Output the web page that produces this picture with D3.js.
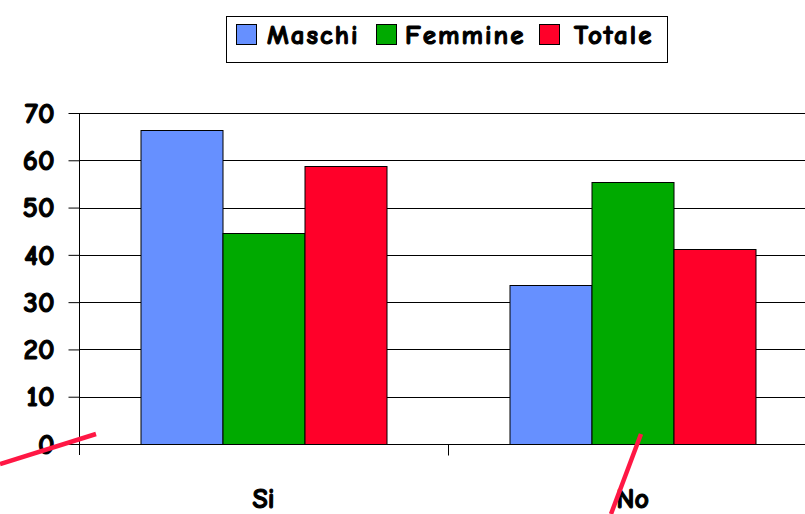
<!DOCTYPE html>
<html lang="it">
<head>
    <meta charset="UTF-8">
    <title>Maschi Femmine Totale</title>
    <script src="https://d3js.org/d3.v7.min.js"></script>
    <style>
        body { margin: 0; background: #fff; }
        svg { display: block; }
        text {
            font-family: "Comic Sans MS", "Comic Neue", "DejaVu Sans", sans-serif;
            font-weight: bold;
            fill: #000;
            stroke: #000;
            stroke-width: 1.1px;
            paint-order: stroke;
        }
    </style>
</head>
<body>
    <svg width="805" height="514"></svg>

    <script>
        // Data (percentages)
        const categories = ["Si", "No"];
        const seriesNames = ["Maschi", "Femmine", "Totale"];
        const maschi = [66.4, 33.6];
        const femmine = [44.6, 55.4];
        const totale = [58.7, 41.3];
        const yTicks = [0, 10, 20, 30, 40, 50, 60, 70];
        const colors = ["#6690ff", "#00aa00", "#ff0029"];

        const series = [maschi, femmine, totale];

        const width = 805;
        // the plot runs past the right edge of the picture (cropped)
        const plot = { left: 79, right: 817, top: 113, bottom: 444 };

        const svg = d3.select("svg");

        const x = d3.scaleBand()
            .domain(categories)
            .range([plot.left, plot.right])
            .padding(0);

        const xInner = d3.scaleBand()
            .domain(seriesNames)
            .range([x.bandwidth() / 6, x.bandwidth() * 5 / 6])
            .padding(0);

        const y = d3.scaleLinear()
            .domain([0, 70])
            .range([plot.bottom, plot.top]);

        // Gridlines
        svg.append("g")
            .selectAll("line")
            .data(yTicks.filter(d => d > 0))
            .join("line")
            .attr("x1", plot.left)
            .attr("x2", width)
            .attr("y1", d => Math.round(y(d)) + 0.5)
            .attr("y2", d => Math.round(y(d)) + 0.5)
            .attr("stroke", "#000")
            .attr("stroke-width", 1);

        // Bars
        const groups = svg.append("g")
            .selectAll("g")
            .data(categories)
            .join("g")
            .attr("transform", d => `translate(${x(d)},0)`);

        groups.selectAll("rect")
            .data((c, i) => seriesNames.map((s, j) => ({ s, j, v: series[j][i] })))
            .join("rect")
            .attr("x", d => xInner(d.s) + 0.5)
            .attr("width", xInner.bandwidth())
            .attr("y", d => Math.round(y(d.v)) + 0.5)
            .attr("height", d => Math.round(y(0)) - Math.round(y(d.v)))
            .attr("fill", d => colors[d.j])
            .attr("stroke", "#000")
            .attr("stroke-width", 1);

        // Y axis
        const yAxis = svg.append("g")
            .attr("transform", `translate(${plot.left + 0.5},0)`)
            .call(d3.axisLeft(y).tickValues(yTicks).tickSize(11).tickPadding(14));
        yAxis.attr("font-family", null).attr("font-size", null);
        yAxis.select(".domain").attr("d", `M0,${plot.top}V${plot.bottom + 11}`).attr("stroke", "#000");
        yAxis.selectAll(".tick line").attr("stroke", "#000");
        yAxis.selectAll(".tick text")
            .attr("fill", null)
            .style("font-size", "29px");

        // X axis
        const xAxis = svg.append("g")
            .attr("transform", `translate(0,${plot.bottom + 0.5})`);
        xAxis.append("line")
            .attr("x1", plot.left)
            .attr("x2", width)
            .attr("stroke", "#000");
        xAxis.selectAll("line.tick")
            .data(categories)
            .join("line")
            .attr("class", "tick")
            .attr("x1", d => Math.round(x(d) + x.bandwidth()) + 0.5)
            .attr("x2", d => Math.round(x(d) + x.bandwidth()) + 0.5)
            .attr("y1", 0)
            .attr("y2", 11)
            .attr("stroke", "#000");
        xAxis.selectAll("text")
            .data(categories)
            .join("text")
            .attr("x", d => x(d) + x.bandwidth() / 2)
            .attr("y", 63)
            .attr("text-anchor", "middle")
            .style("font-size", "28px")
            .text(d => d);

        // Legend
        const legend = svg.append("g");
        legend.append("rect")
            .attr("x", 226.5)
            .attr("y", 16.5)
            .attr("width", 441)
            .attr("height", 46)
            .attr("fill", "#fff")
            .attr("stroke", "#000");
        const swatchX = [236, 376, 539];
        const labelX = [267, 405, 574];
        seriesNames.forEach((name, i) => {
            legend.append("rect")
                .attr("x", swatchX[i] + 0.5)
                .attr("y", 24.5)
                .attr("width", 20)
                .attr("height", 20)
                .attr("fill", colors[i])
                .attr("stroke", "#000");
            legend.append("text")
                .attr("x", labelX[i])
                .attr("y", 44)
                .style("font-size", "27px")
                .style("letter-spacing", "2px")
                .text(name);
        });

        // Red hand-drawn marks over the picture
        const strokes = [
            [[0, 464], [96, 434]],
            [[641, 434], [611, 514]]
        ];
        svg.append("g")
            .selectAll("path")
            .data(strokes)
            .join("path")
            .attr("d", d3.line())
            .attr("stroke", "#ff1744")
            .attr("stroke-width", 4.5)
            .attr("fill", "none");
    </script>
</body>
</html>
